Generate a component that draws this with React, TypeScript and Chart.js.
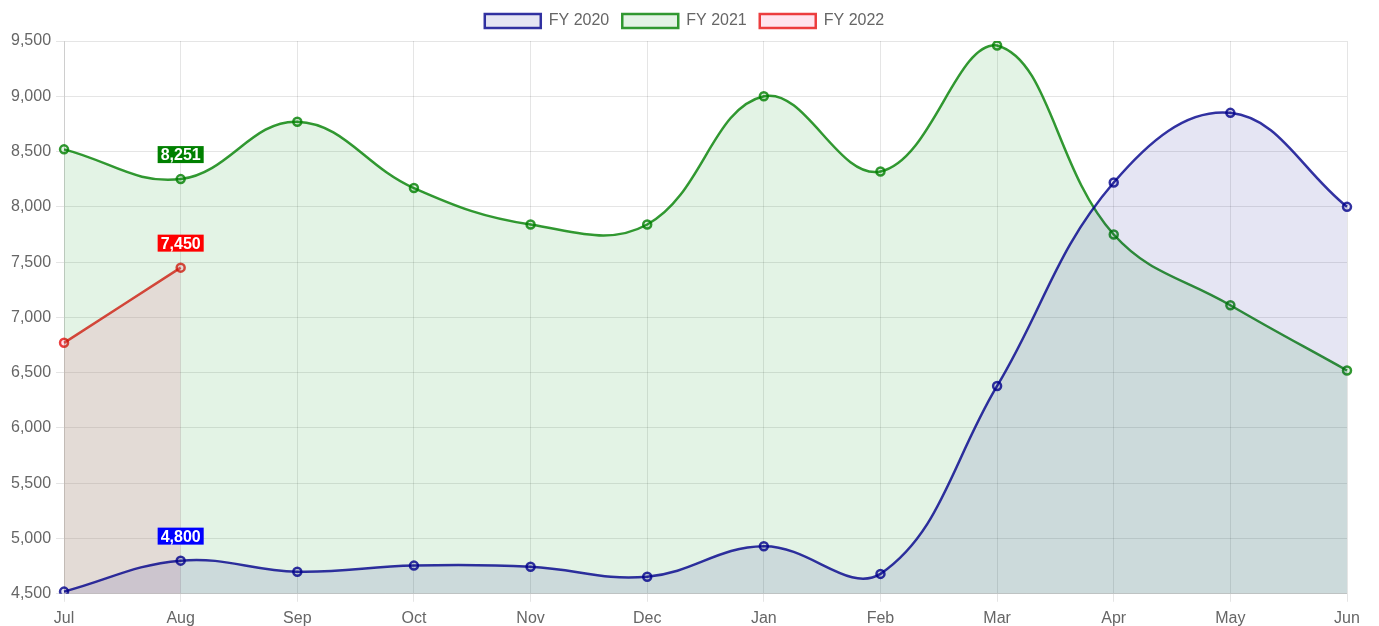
import React, { useEffect, useRef } from "react";
import { Chart, registerables } from "chart.js";

Chart.register(...registerables);

const months = ["Jul", "Aug", "Sep", "Oct", "Nov", "Dec", "Jan", "Feb", "Mar", "Apr", "May", "Jun"];
const fy2020 = [4520, 4800, 4700, 4755, 4745, 4655, 4930, 4680, 6380, 8220, 8850, 8000];
const fy2021 = [8520, 8251, 8770, 8170, 7840, 7840, 9000, 8320, 9460, 7750, 7110, 6520];
const fy2022 = [6770, 7450];
const labelIndex = 1;
const yMin = 4500;
const yMax = 9500;

const FONT = "'Liberation Sans', Arial, sans-serif";

const labelPlugin = {
  id: "pointLabels",
  afterDatasetsDraw(chart: any) {
    const ctx = chart.ctx;
    chart.data.datasets.forEach((ds: any, i: number) => {
      const meta = chart.getDatasetMeta(i);
      const el = meta.data[labelIndex];
      if (!el) return;
      const v = ds.data[labelIndex];
      const text = v.toLocaleString("en-US");
      ctx.save();
      ctx.font = `bold 16px ${FONT}`;
      const w = ctx.measureText(text).width + 6;
      const h = 17;
      const x = el.x;
      const bottom = el.y - 16;
      ctx.fillStyle = ds.labelColor;
      ctx.fillRect(x - w / 2, bottom - h, w, h);
      ctx.fillStyle = "#fff";
      ctx.textAlign = "center";
      ctx.textBaseline = "middle";
      ctx.fillText(text, x, bottom - h / 2 + 1);
      ctx.restore();
    });
  },
};

const legendSpacing = {
  id: "legendSpacing",
  beforeInit(chart: any) {
    const orig = chart.legend.fit;
    chart.legend.fit = function () {
      orig.bind(chart.legend)();
      this.height += 2;
    };
  },
  afterLayout(chart: any) {
    if (chart.legend) {
      chart.legend.left += 8;
      chart.legend.right += 8;
    }
  },
};

export default function App() {
  const ref = useRef<HTMLCanvasElement>(null);
  useEffect(() => {
    if (!ref.current) return;
    const chart = new Chart(ref.current, {
      type: "line",
      data: {
        labels: months,
        datasets: [
          {
            label: "FY 2020",
            data: fy2020,
            borderColor: "rgba(0,0,139,0.8)",
            backgroundColor: "rgba(0,0,139,0.1)",
            pointBackgroundColor: "rgba(0,0,139,0.1)",
            labelColor: "#0000ff",
            fill: "origin",
            tension: 0.4,
            borderWidth: 2.5,
            pointRadius: 4,
            pointBorderWidth: 2.5,
          } as any,
          {
            label: "FY 2021",
            data: fy2021,
            borderColor: "rgba(0,128,0,0.8)",
            backgroundColor: "rgba(0,150,20,0.11)",
            pointBackgroundColor: "rgba(0,150,20,0.11)",
            labelColor: "#008000",
            fill: "origin",
            tension: 0.4,
            borderWidth: 2.5,
            pointRadius: 4,
            pointBorderWidth: 2.5,
          } as any,
          {
            label: "FY 2022",
            data: fy2022,
            borderColor: "rgba(230,0,0,0.75)",
            backgroundColor: "rgba(255,120,170,0.2)",
            pointBackgroundColor: "rgba(255,120,170,0.2)",
            labelColor: "#ff0000",
            fill: "origin",
            tension: 0.4,
            borderWidth: 2.5,
            pointRadius: 4,
            pointBorderWidth: 2.5,
          } as any,
        ],
      },
      options: {
        animation: false,
        responsive: true,
        maintainAspectRatio: false,
        layout: { padding: { left: 6, right: 32, top: 0, bottom: -9 } },
        plugins: {
          legend: {
            position: "top",
            labels: {
              font: { size: 16, family: FONT },
              color: "#666",
              boxWidth: 56,
              boxHeight: 14,
              padding: 13,
            },
          },
          tooltip: { enabled: false },
        },
        scales: {
          x: {
            grid: { color: "rgba(0,0,0,0.1)", tickLength: 8 },
            ticks: { font: { size: 16, family: FONT }, color: "#666", padding: 7 },
          },
          y: {
            min: yMin,
            max: yMax,
            grid: { color: "rgba(0,0,0,0.1)", tickLength: 8 },
            ticks: {
              stepSize: 500,
              font: { size: 16, family: FONT },
              color: "#666",
              padding: 5,
              callback: (v: any) => Number(v).toLocaleString("en-US"),
            },
          },
        },
      },
      plugins: [labelPlugin, legendSpacing],
    });
    return () => chart.destroy();
  }, []);
  return (
    <div style={{ position: "absolute", left: 0, top: 0, width: 1379, height: 626 }}>
      <canvas ref={ref} />
    </div>
  );
}
